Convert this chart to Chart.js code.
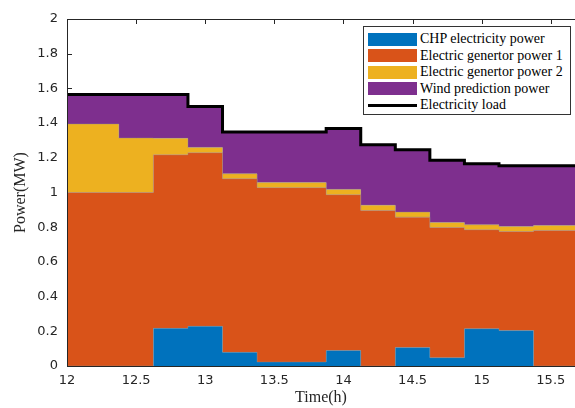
<!DOCTYPE html>
<html>
<head>
<meta charset="utf-8">
<script src="https://cdn.jsdelivr.net/npm/chart.js@4.4.0/dist/chart.umd.min.js"></script>
<style>
  html, body { margin: 0; padding: 0; background: #fff; overflow: hidden; }
  #wrap { position: relative; width: 575px; height: 408px; }
  #legend {
    position: absolute; left: 363px; top: 26px; width: 208px; height: 89px;
    box-sizing: border-box; border: 1px solid #333; background: #fff;
    padding-top: 4px;
    font-family: "Liberation Serif", "Times New Roman", serif; font-size: 14px; color: #000;
  }
  .row { display: flex; align-items: center; height: 16.5px; white-space: nowrap; }
  .sw { width: 49px; height: 13px; margin-left: 4px; margin-right: 3px; flex: none; }
  .sw.line { height: 3px; margin-top: 1px; }
</style>
</head>
<body>
<div id="wrap">
  <canvas id="chart" width="575" height="408"></canvas>
  <div id="legend"></div>
</div>
<script>
// time stamps (h)
const times = [12, 12.25, 12.5, 12.75, 13, 13.25, 13.5, 13.75, 14, 14.25, 14.5, 14.75, 15, 15.25, 15.5, 15.75];

// power (MW)
const chp   = [0, 0, 0, 0.217, 0.229, 0.079, 0.023, 0.023, 0.089, 0, 0.106, 0.048, 0.215, 0.204, 0, 0];
const gen1  = [1.0, 1.0, 1.0, 1.0, 1.0, 1.0, 1.005, 1.005, 0.898, 0.896, 0.752, 0.75, 0.57, 0.571, 0.781, 0.781];
const gen2  = [0.395, 0.395, 0.314, 0.095, 0.031, 0.029, 0.029, 0.029, 0.031, 0.031, 0.029, 0.029, 0.029, 0.029, 0.029, 0.029];
const wind  = [0.17, 0.17, 0.251, 0.251, 0.234, 0.238, 0.29, 0.29, 0.351, 0.348, 0.359, 0.359, 0.352, 0.35, 0.344, 0.344];
const load  = [1.565, 1.565, 1.565, 1.565, 1.496, 1.348, 1.348, 1.348, 1.369, 1.275, 1.246, 1.186, 1.166, 1.154, 1.154, 1.154];

const xTicks = [12, 12.5, 13, 13.5, 14, 14.5, 15, 15.5];
const yTicks = [0, 0.2, 0.4, 0.6, 0.8, 1, 1.2, 1.4, 1.6, 1.8, 2];

const names = ["CHP electricity power", "Electric genertor power 1", "Electric genertor power 2", "Wind prediction power", "Electricity load"];
const colors = ["#0072BD", "#D95319", "#EDB120", "#7E2F8E", "#000000"];

const axisColor = "#262626";
const pts = arr => arr.map((v, i) => ({ x: times[i], y: v }));

function area(i, values) {
  return {
    label: names[i],
    data: pts(values),
    stack: "power",
    order: 1,
    stepped: "middle",
    fill: i === 0 ? "origin" : "-1",
    backgroundColor: colors[i],
    borderColor: "rgba(140,140,140,0.55)",
    borderWidth: 0.75,
    pointRadius: 0
  };
}

// MATLAB-like box with inward ticks (ticks under the data, frame on top)
const boxAxes = {
  id: "boxAxes",
  beforeDatasetsDraw(chart) {
    const { ctx, chartArea: a, scales } = chart;
    ctx.save();
    ctx.strokeStyle = axisColor;
    ctx.lineWidth = 1;
    ctx.beginPath();
    yTicks.forEach(v => {
      const y = Math.round(scales.y.getPixelForValue(v)) + 0.5;
      ctx.moveTo(a.left, y); ctx.lineTo(a.left + 5, y);
    });
    xTicks.forEach(v => {
      const x = Math.round(scales.x.getPixelForValue(v)) + 0.5;
      ctx.moveTo(x, a.top); ctx.lineTo(x, a.top + 5);
      ctx.moveTo(x, a.bottom); ctx.lineTo(x, a.bottom - 5);
    });
    ctx.stroke();
    ctx.restore();
  },
  afterDatasetsDraw(chart) {
    const { ctx, chartArea: a } = chart;
    ctx.save();
    ctx.strokeStyle = axisColor;
    ctx.lineWidth = 1;
    ctx.beginPath();
    ctx.moveTo(a.right, Math.round(a.top) + 0.5);
    ctx.lineTo(Math.round(a.left) + 0.5, Math.round(a.top) + 0.5);
    ctx.lineTo(Math.round(a.left) + 0.5, Math.round(a.bottom) + 0.5);
    ctx.lineTo(a.right, Math.round(a.bottom) + 0.5);
    ctx.stroke();
    ctx.restore();
  }
};

const chart = new Chart(document.getElementById("chart"), {
  type: "line",
  data: {
    datasets: [
      area(0, chp),
      area(1, gen1),
      area(2, gen2),
      area(3, wind),
      {
        label: names[4],
        data: pts(load),
        stack: "load",
        order: 0,
        stepped: "middle",
        fill: false,
        borderColor: colors[4],
        borderWidth: 3,
        pointRadius: 0
      }
    ]
  },
  options: {
    responsive: false,
    animation: false,
    devicePixelRatio: 1,
    layout: { padding: { top: 19, right: 0, left: 0, bottom: 0 } },
    plugins: { legend: { display: false }, tooltip: { enabled: false } },
    scales: {
      x: {
        type: "linear",
        min: 12,
        max: 15.675,
        grid: { display: false, drawTicks: false },
        border: { display: false },
        afterBuildTicks: s => { s.ticks = xTicks.map(v => ({ value: v })); },
        afterFit: s => { s.height = 42; },
        ticks: {
          padding: 7,
          maxRotation: 0,
          color: axisColor,
          font: { family: "DejaVu Sans", size: 13 },
          callback: v => String(v)
        },
        title: {
          display: true,
          text: "Time(h)",
          color: axisColor,
          padding: { top: 0, bottom: 1 },
          font: { family: "Liberation Serif", size: 16 }
        }
      },
      y: {
        stacked: true,
        min: 0,
        max: 2,
        grid: { display: false, drawTicks: false },
        border: { display: false },
        afterBuildTicks: s => { s.ticks = yTicks.map(v => ({ value: v })); },
        afterFit: s => { s.width = 67; },
        ticks: {
          padding: 9,
          color: axisColor,
          font: { family: "DejaVu Sans", size: 13 },
          callback: v => String(v)
        },
        title: {
          display: true,
          text: "Power(MW)",
          color: axisColor,
          padding: { top: 11, bottom: 0 },
          font: { family: "Liberation Serif", size: 16 }
        }
      }
    }
  },
  plugins: [boxAxes]
});

// legend box as html, built from the datasets
const legendDiv = document.getElementById("legend");
legendDiv.innerHTML = chart.data.datasets
  .map((d, i) => `
    <div class="row">
      <span class="sw${i === 4 ? " line" : ""}" style="background:${colors[i]}"></span>
      <span>${d.label}</span>
    </div>`)
  .join("");
</script>
</body>
</html>
